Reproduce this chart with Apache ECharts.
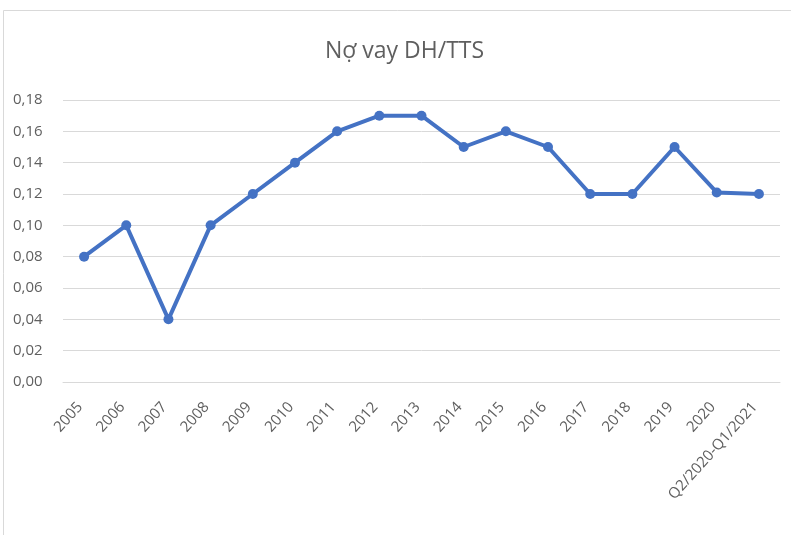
<!DOCTYPE html>
<html>
<head>
<meta charset="utf-8">
<script src="https://cdn.jsdelivr.net/npm/echarts@6/dist/echarts.min.js"></script>
<style>
  html, body { margin: 0; padding: 0; background: #ffffff; }
  #chart { width: 791px; height: 535px; }
</style>
</head>
<body>
<div id="chart"></div>
<script>
// Long-term debt to total assets, by year
const categories = ['2005', '2006', '2007', '2008', '2009', '2010', '2011', '2012', '2013',
  '2014', '2015', '2016', '2017', '2018', '2019', '2020', 'Q2/2020-Q1/2021'];
const debtRatio = [0.08, 0.10, 0.04, 0.10, 0.12, 0.14, 0.16, 0.17, 0.17,
  0.15, 0.16, 0.15, 0.12, 0.12, 0.15, 0.121, 0.12];
const chartTitle = 'Nợ vay DH/TTS';

const textColor = '#5f5f5f';
const font = '"Open Sans", "Noto Sans", sans-serif';

const chart = echarts.init(document.getElementById('chart'));
chart.setOption({
  animation: false,
  backgroundColor: '#ffffff',
  graphic: [{
    type: 'rect',
    shape: { x: 3.5, y: 10.5, width: 800, height: 540 },
    style: { fill: 'none', stroke: '#d9d9d9', lineWidth: 1 },
    silent: true
  }],
  title: {
    text: chartTitle,
    left: 320,
    top: 35,
    textStyle: { fontFamily: font, fontSize: 23, fontWeight: 'normal', color: textColor }
  },
  grid: { left: 63, right: 11, top: 100, bottom: 153, containLabel: false },
  xAxis: {
    type: 'category',
    data: categories,
    boundaryGap: true,
    axisLine: { show: true, lineStyle: { color: '#d9d9d9', width: 1 } },
    axisTick: { show: false },
    axisLabel: {
      rotate: 48,
      interval: 0,
      margin: 18,
      padding: [0, 6, 0, 0],
      fontFamily: font,
      fontSize: 15,
      color: textColor
    }
  },
  yAxis: {
    type: 'value',
    min: 0,
    max: 0.18,
    interval: 0.02,
    axisLine: { show: false },
    axisTick: { show: false },
    splitLine: { lineStyle: { color: '#d9d9d9', width: 1 } },
    axisLabel: {
      margin: 50,
      align: 'left',
      fontFamily: font,
      fontSize: 15,
      color: textColor,
      formatter: v => v.toFixed(2).replace('.', ',')
    }
  },
  series: [{
    type: 'line',
    data: debtRatio,
    symbol: 'circle',
    symbolSize: 10,
    lineStyle: { color: '#4472C4', width: 4 },
    itemStyle: { color: '#4472C4' }
  }]
});
</script>
</body>
</html>
